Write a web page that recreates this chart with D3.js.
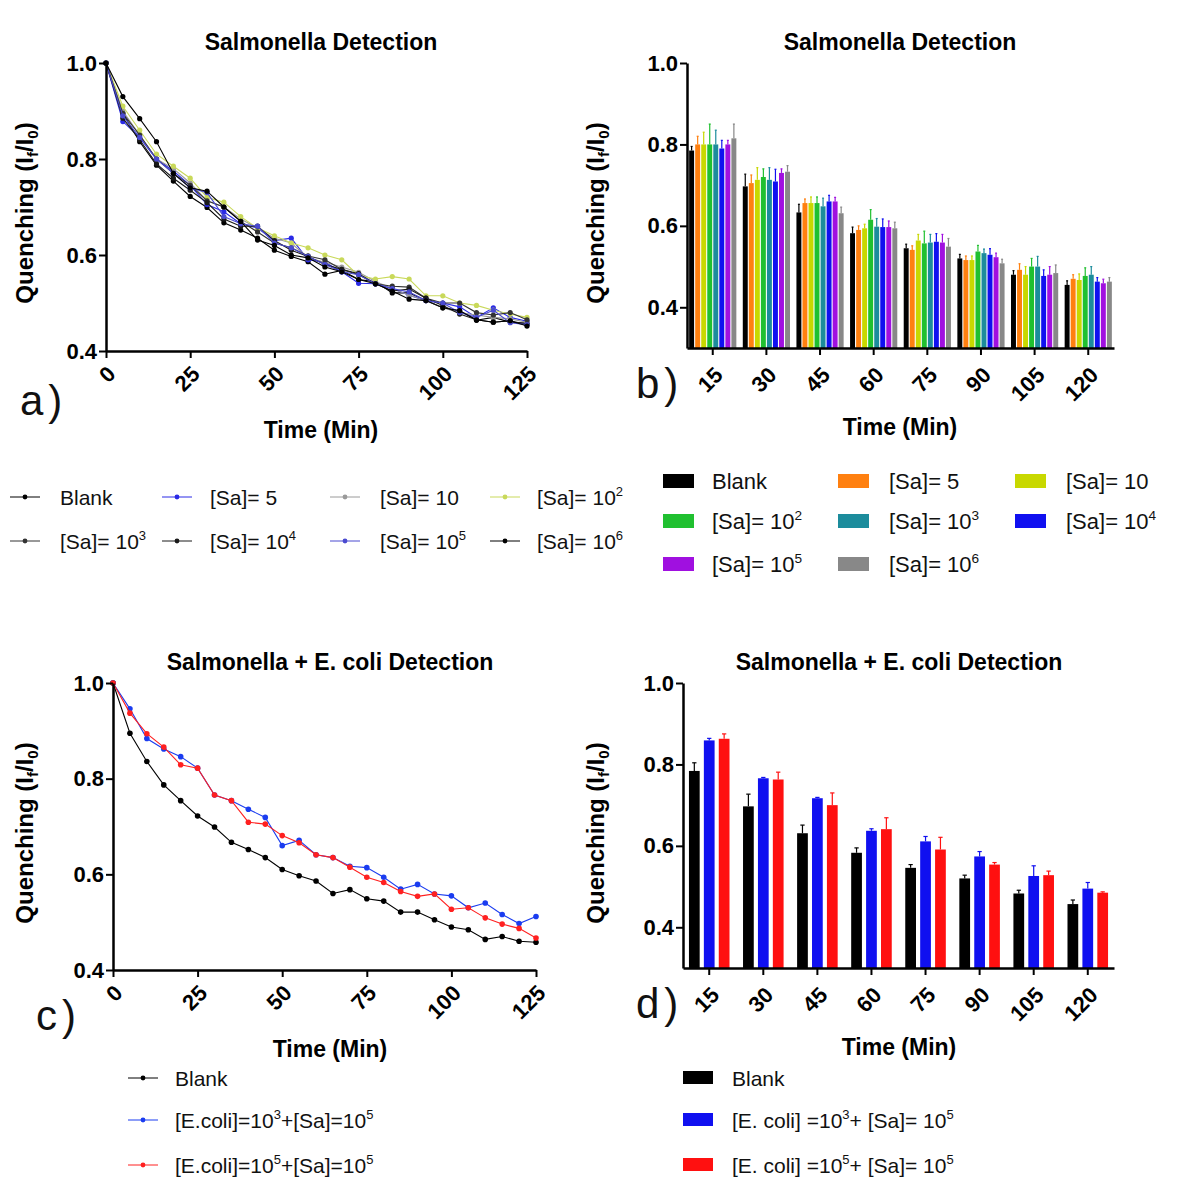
<!DOCTYPE html>
<html>
<head>
<meta charset="utf-8">
<script src="https://cdn.jsdelivr.net/npm/d3@7"></script>
<style>
  body { margin: 0; background: #fff; }
  svg text { font-family: "Liberation Sans", Arial, sans-serif; }
</style>
</head>
<body>
<svg id="fig" width="1177" height="1194"></svg>
<script>
// ---- data ----
const sampleTimes = [0,5,10,15,20,25,30,35,40,45,50,55,60,65,70,75,80,85,90,95,100,105,110,115,120,125];
const timeTicks = [0,25,50,75,100,125];
const barTimes = ["15","30","45","60","75","90","105","120"];
const yTicks = [0.4,0.6,0.8,1.0];

// panel a : lines
const aNames = ["Blank","[Sa]= 5","[Sa]= 10","[Sa]= 10^2","[Sa]= 10^3","[Sa]= 10^4","[Sa]= 10^5","[Sa]= 10^6"];
const aColors = ["#000000","#2a2ae6","#9a9a9a","#c9d95a","#333333","#1a1a1a","#4a4ad0","#000000"];
const aBlank = [1.0,0.895,0.836,0.787,0.754,0.722,0.699,0.667,0.652,0.635,0.61,0.597,0.586,0.56,0.568,0.549,0.544,0.521,0.521,0.505,0.49,0.484,0.464,0.47,0.46,0.458];
const aSa5   = [1.0,0.878,0.845,0.80,0.775,0.745,0.705,0.69,0.665,0.656,0.63,0.635,0.59,0.585,0.565,0.541,0.54,0.53,0.516,0.505,0.50,0.492,0.47,0.49,0.47,0.462];
const aSa10  = [1.0,0.90,0.85,0.80,0.78,0.75,0.713,0.70,0.675,0.656,0.635,0.625,0.594,0.585,0.575,0.564,0.545,0.53,0.516,0.505,0.49,0.48,0.475,0.47,0.467,0.46];
const aSa1e2 = [1.0,0.91,0.86,0.81,0.785,0.76,0.72,0.71,0.68,0.656,0.64,0.625,0.615,0.60,0.59,0.557,0.55,0.555,0.55,0.515,0.515,0.50,0.495,0.485,0.477,0.47];
const aSa1e3 = [1.0,0.895,0.85,0.80,0.77,0.745,0.713,0.70,0.67,0.648,0.625,0.615,0.598,0.59,0.57,0.559,0.54,0.535,0.533,0.51,0.50,0.50,0.48,0.475,0.48,0.465];
const aSa1e4 = [1.0,0.885,0.84,0.79,0.76,0.735,0.709,0.675,0.66,0.66,0.63,0.61,0.597,0.58,0.57,0.561,0.54,0.525,0.529,0.51,0.495,0.477,0.465,0.46,0.463,0.455];
const aSa1e5 = [1.0,0.89,0.845,0.80,0.77,0.74,0.73,0.68,0.665,0.66,0.625,0.615,0.597,0.58,0.565,0.559,0.54,0.53,0.523,0.505,0.50,0.48,0.47,0.485,0.459,0.455];
const aSa1e6 = [1.0,0.93,0.884,0.836,0.77,0.74,0.733,0.70,0.67,0.631,0.62,0.60,0.594,0.575,0.565,0.549,0.54,0.525,0.508,0.505,0.49,0.484,0.465,0.46,0.463,0.452];

// panel b : bars (mean, upward error)
const bNames = ["Blank","[Sa]= 5","[Sa]= 10","[Sa]= 10^2","[Sa]= 10^3","[Sa]= 10^4","[Sa]= 10^5","[Sa]= 10^6"];
const bColors = ["#000000","#ff8010","#c8d800","#20c030","#1c8c9c","#1010f0","#a010e0","#888888"];
const bBlank = [0.785,0.697,0.633,0.582,0.545,0.52,0.48,0.455];
const bSa5   = [0.80,0.705,0.656,0.59,0.541,0.516,0.492,0.47];
const bSa10  = [0.80,0.713,0.656,0.594,0.564,0.516,0.48,0.467];
const bSa1e2 = [0.80,0.72,0.656,0.615,0.557,0.537,0.50,0.477];
const bSa1e3 = [0.80,0.713,0.648,0.598,0.559,0.533,0.50,0.48];
const bSa1e4 = [0.79,0.709,0.66,0.597,0.561,0.529,0.477,0.463];
const bSa1e5 = [0.80,0.73,0.66,0.597,0.559,0.523,0.48,0.459];
const bSa1e6 = [0.815,0.733,0.631,0.594,0.549,0.508,0.484,0.463];
const bBlankErr = [0.01,0.03,0.02,0.015,0.01,0.01,0.01,0.01];
const bSa5Err   = [0.02,0.02,0.01,0.01,0.01,0.01,0.015,0.01];
const bSa10Err  = [0.03,0.03,0.015,0.01,0.015,0.01,0.02,0.015];
const bSa1e2Err = [0.05,0.02,0.015,0.025,0.03,0.015,0.02,0.02];
const bSa1e3Err = [0.035,0.03,0.02,0.02,0.02,0.01,0.025,0.02];
const bSa1e4Err = [0.02,0.03,0.015,0.02,0.02,0.015,0.015,0.01];
const bSa1e5Err = [0.01,0.01,0.01,0.015,0.02,0.01,0.02,0.01];
const bSa1e6Err = [0.035,0.015,0.015,0.015,0.02,0.01,0.02,0.01];

// panel c : lines
const cNames = ["Blank","[E.coli]=10^3+[Sa]=10^5","[E.coli]=10^5+[Sa]=10^5"];
const cColors = ["#000000","#1a3cf0","#ff2020"];
const cBlank = [1.0,0.895,0.836,0.787,0.754,0.722,0.699,0.667,0.652,0.635,0.61,0.597,0.586,0.56,0.568,0.549,0.544,0.521,0.521,0.505,0.49,0.484,0.464,0.47,0.46,0.458];
const cEc3   = [1.0,0.946,0.884,0.862,0.846,0.822,0.766,0.754,0.736,0.719,0.66,0.671,0.641,0.635,0.617,0.614,0.594,0.569,0.579,0.559,0.555,0.53,0.54,0.516,0.497,0.512];
const cEc5   = [1.0,0.937,0.894,0.866,0.829,0.822,0.766,0.754,0.709,0.705,0.681,0.666,0.641,0.635,0.615,0.594,0.583,0.564,0.554,0.559,0.527,0.53,0.509,0.496,0.487,0.467];

// panel d : bars
const dNames = ["Blank","[E. coli] =10^3+ [Sa]= 10^5","[E. coli] =10^5+ [Sa]= 10^5"];
const dColors = ["#000000","#1010f0","#ff1010"];
const dBlank = [0.784,0.697,0.631,0.583,0.546,0.52,0.483,0.457];
const dEc3   = [0.859,0.766,0.717,0.637,0.611,0.574,0.526,0.495];
const dEc5   = [0.863,0.763,0.70,0.641,0.591,0.554,0.528,0.485];
const dBlankErr = [0.02,0.03,0.02,0.012,0.008,0.008,0.008,0.01];
const dEc3Err   = [0.005,0.002,0.002,0.005,0.012,0.012,0.025,0.015];
const dEc5Err   = [0.012,0.018,0.03,0.028,0.03,0.005,0.01,0.002];

const svg = d3.select('#fig');

// text with ^n superscripts
function richText(t, str, size) {
  let raised = false;
  str.split(/(\^\d)/).filter(s => s.length).forEach(part => {
    if (part[0] === '^') {
      t.append('tspan').attr('font-size', size * 0.62).attr('dy', -size * 0.42).text(part.slice(1));
      raised = true;
    } else {
      t.append('tspan').attr('dy', raised ? size * 0.42 : 0).text(part);
      raised = false;
    }
  });
}

function yTitle(x, y) {
  const t = svg.append('text')
    .attr('transform', `translate(${x},${y}) rotate(-90)`)
    .attr('text-anchor', 'middle').attr('font-weight', 'bold').attr('font-size', 24);
  t.append('tspan').text('Quenching (I');
  t.append('tspan').attr('font-size', 15).attr('dy', 5).text('f');
  t.append('tspan').attr('dy', -5).text('/I');
  t.append('tspan').attr('font-size', 15).attr('dy', 5).text('0');
  t.append('tspan').attr('dy', -5).text(')');
}

function frame(o, x, y, xAxis, labOff) {
  // titles
  svg.append('text').attr('x', o.titleX).attr('y', o.top - 13).attr('text-anchor', 'middle')
    .attr('font-weight', 'bold').attr('font-size', 23).text(o.title);
  svg.append('text').attr('x', o.titleX).attr('y', o.bottom + 87).attr('text-anchor', 'middle')
    .attr('font-weight', 'bold').attr('font-size', 23).text('Time (Min)');
  yTitle(o.yTitleX, o.top + 150);
  svg.append('text').attr('x', o.tagX).attr('y', o.bottom + o.tagDy).attr('font-size', 42)
    .attr('letter-spacing', 5).attr('font-family', 'DejaVu Sans').attr('fill', '#111').text(o.tag);

  const gy = svg.append('g').attr('transform', `translate(${o.left},0)`)
    .call(d3.axisLeft(y).tickValues(yTicks).tickFormat(d3.format('.1f')).tickSize(7).tickPadding(2).tickSizeOuter(0));
  const gx = svg.append('g').attr('transform', `translate(0,${o.bottom})`).call(xAxis);
  [gy, gx].forEach(g => {
    g.select('.domain').attr('stroke', '#000').attr('stroke-width', 2.5);
    g.selectAll('.tick line').attr('stroke', '#000').attr('stroke-width', 2);
    g.selectAll('.tick text').attr('font-weight', 'bold').attr('font-size', 22).attr('fill', '#000')
      .attr('font-family', '"Liberation Sans", Arial, sans-serif');
  });
  gx.selectAll('.tick text')
    .attr('text-anchor', 'end').attr('x', 0).attr('y', 0).attr('dy', '0.35em')
    .attr('transform', `translate(${labOff[0]},${labOff[1]}) rotate(-45)`);
}

function lineChart(o, series, colors, r) {
  const x = d3.scaleLinear().domain([0, 125]).range([o.left, o.right]);
  const y = d3.scaleLinear().domain([0.4, 1.0]).range([o.bottom, o.top]);
  const line = d3.line().x((d, i) => x(sampleTimes[i])).y(d => y(d));
  series.forEach((s, k) => {
    svg.append('path').datum(s).attr('d', line).attr('fill', 'none')
      .attr('stroke', colors[k]).attr('stroke-width', 1.1);
    svg.append('g').selectAll('circle').data(s).join('circle')
      .attr('cx', (d, i) => x(sampleTimes[i])).attr('cy', d => y(d)).attr('r', r)
      .attr('fill', colors[k]);
  });
  frame(o, x, y, d3.axisBottom(x).tickValues(timeTicks).tickSize(7).tickSizeOuter(0), [5, 19]);
}

function barChart(o, series, errs, colors, pin, pout, gap) {
  const x = d3.scaleBand().domain(barTimes).range([o.left, o.right]).paddingInner(pin).paddingOuter(pout);
  const y = d3.scaleLinear().domain([0.3, 1.0]).range([o.bottom, o.top]);
  const xs = d3.scaleBand().domain(d3.range(series.length)).range([0, x.bandwidth()]).paddingInner(gap);
  series.forEach((s, k) => {
    const g = svg.append('g');
    g.selectAll('rect').data(s).join('rect')
      .attr('x', (d, i) => x(barTimes[i]) + xs(k)).attr('width', xs.bandwidth())
      .attr('y', d => y(d)).attr('height', d => y(0.3) - y(d)).attr('fill', colors[k]);
    const cx = i => x(barTimes[i]) + xs(k) + xs.bandwidth() / 2;
    g.selectAll('line.err').data(s).join('line').attr('class', 'err')
      .attr('x1', (d, i) => cx(i)).attr('x2', (d, i) => cx(i))
      .attr('y1', d => y(d)).attr('y2', (d, i) => y(d + errs[k][i]))
      .attr('stroke', colors[k]).attr('stroke-width', 1.2);
    g.selectAll('line.cap').data(s).join('line').attr('class', 'cap')
      .attr('x1', (d, i) => cx(i) - xs.bandwidth() * 0.2).attr('x2', (d, i) => cx(i) + xs.bandwidth() * 0.2)
      .attr('y1', (d, i) => y(d + errs[k][i])).attr('y2', (d, i) => y(d + errs[k][i]))
      .attr('stroke', colors[k]).attr('stroke-width', 1.2);
  });
  frame(o, x, y, d3.axisBottom(x).tickSize(7).tickSizeOuter(0), [6, 23]);
}

// ---- panels ----
lineChart({left: 106, right: 527, top: 63, bottom: 351, title: 'Salmonella Detection', titleX: 321,
           yTitleX: 33, tag: 'a)', tagX: 20, tagDy: 64},
  [aBlank, aSa5, aSa10, aSa1e2, aSa1e3, aSa1e4, aSa1e5, aSa1e6], aColors, 2.6);

barChart({left: 687, right: 1114, top: 63, bottom: 348, title: 'Salmonella Detection', titleX: 900,
          yTitleX: 604, tag: 'b)', tagX: 636, tagDy: 50},
  [bBlank, bSa5, bSa10, bSa1e2, bSa1e3, bSa1e4, bSa1e5, bSa1e6],
  [bBlankErr, bSa5Err, bSa10Err, bSa1e2Err, bSa1e3Err, bSa1e4Err, bSa1e5Err, bSa1e6Err], bColors, 0.12, 0.04, 0.18);

lineChart({left: 113, right: 536, top: 683, bottom: 970, title: 'Salmonella + E. coli Detection', titleX: 330,
           yTitleX: 33, tag: 'c)', tagX: 36, tagDy: 60},
  [cBlank, cEc3, cEc5], cColors, 2.8);

barChart({left: 683, right: 1114, top: 683, bottom: 968, title: 'Salmonella + E. coli Detection', titleX: 899,
          yTitleX: 604, tag: 'd)', tagX: 636, tagDy: 50},
  [dBlank, dEc3, dEc5], [dBlankErr, dEc3Err, dEc5Err], dColors, 0.25, 0.11, 0.28);

// ---- legends ----
function lineKey(x, y, color) {
  svg.append('line').attr('x1', x).attr('x2', x + 30).attr('y1', y).attr('y2', y)
    .attr('stroke', color).attr('stroke-width', 1);
  svg.append('circle').attr('cx', x + 15).attr('cy', y).attr('r', 2.4).attr('fill', color);
}
function label(x, y, str, size) {
  const t = svg.append('text').attr('x', x).attr('y', y).attr('font-size', size).attr('fill', '#111');
  richText(t, str, size);
}

const aKeyX = [10, 162, 330, 490], aTextX = [60, 210, 380, 537], aRowY = [497, 541];
aNames.forEach((n, i) => {
  const c = i % 4, r = Math.floor(i / 4);
  lineKey(aKeyX[c], aRowY[r], aColors[i]);
  label(aTextX[c], aRowY[r] + 8, n, 21);
});

const bKeyX = [663, 838, 1015], bTextX = [712, 889, 1066], bRowY = [481, 521, 564];
bNames.forEach((n, i) => {
  const c = i % 3, r = Math.floor(i / 3);
  svg.append('rect').attr('x', bKeyX[c]).attr('y', bRowY[r] - 7).attr('width', 31).attr('height', 14)
    .attr('fill', bColors[i]);
  label(bTextX[c], bRowY[r] + 8, n, 22);
});

const cRowY = [1078, 1120, 1165];
cNames.forEach((n, i) => {
  lineKey(128, cRowY[i], cColors[i]);
  label(175, cRowY[i] + 8, n, 21);
});

dNames.forEach((n, i) => {
  svg.append('rect').attr('x', 683).attr('y', cRowY[i] - 7).attr('width', 30).attr('height', 13)
    .attr('fill', dColors[i]);
  label(732, cRowY[i] + 8, n, 21);
});
</script>
</body>
</html>
